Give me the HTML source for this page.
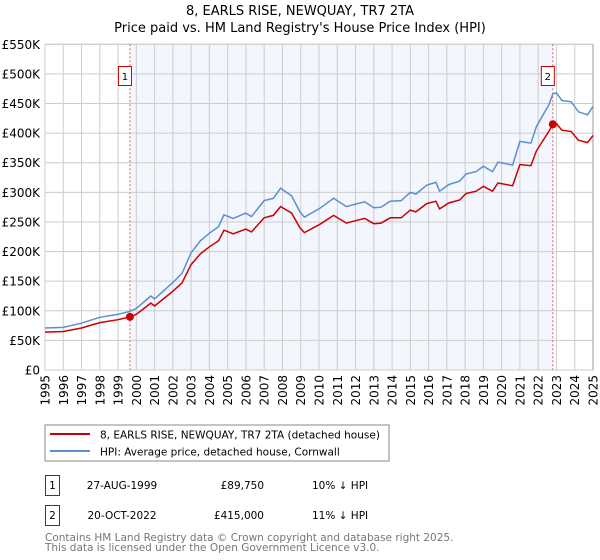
<!DOCTYPE html>
<html><head><meta charset="utf-8"><style>
body{margin:0;background:#fff;font-family:"DejaVu Sans","Liberation Sans",sans-serif;}
svg{display:block}
</style></head><body>
<svg id="c" width="600" height="560" font-family="DejaVu Sans, Liberation Sans, sans-serif">
<text x="300" y="15" text-anchor="middle" font-size="13">8, EARLS RISE, NEWQUAY, TR7 2TA</text>
<text x="300" y="32" text-anchor="middle" font-size="13">Price paid vs. HM Land Registry's House Price Index (HPI)</text>
<g id="plot"></g>
<rect x="45" y="425" width="344" height="36" fill="#fff" stroke="#888"/>
<line x1="50" y1="434" x2="90" y2="434" stroke="#cc0000" stroke-width="2"/>
<text x="100" y="438.5" font-size="10.5">8, EARLS RISE, NEWQUAY, TR7 2TA (detached house)</text>
<line x1="50" y1="451" x2="90" y2="451" stroke="#5b8fd0" stroke-width="2"/>
<text x="100" y="455.5" font-size="10.5">HPI: Average price, detached house, Cornwall</text>
<g font-size="10.5">
<rect x="45.5" y="475.5" width="14" height="20" fill="#fff" stroke="#cc0000"/>
<text x="52.5" y="489" text-anchor="middle">1</text>
<text x="122" y="489" text-anchor="middle">27-AUG-1999</text>
<text x="264" y="489" text-anchor="end">£89,750</text>
<text x="312" y="489">10% ↓ HPI</text>
<rect x="45.5" y="505.5" width="14" height="20" fill="#fff" stroke="#cc0000"/>
<text x="52.5" y="519" text-anchor="middle">2</text>
<text x="122" y="519" text-anchor="middle">20-OCT-2022</text>
<text x="264" y="519" text-anchor="end">£415,000</text>
<text x="312" y="519">11% ↓ HPI</text>
</g>
<text x="45" y="541" font-size="10.5" fill="#777">Contains HM Land Registry data © Crown copyright and database right 2025.</text>
<text x="45" y="551" font-size="10.5" fill="#777">This data is licensed under the Open Government Licence v3.0.</text>
</svg>
<script>
const hpiYears=[1995,1996,1997,1998,1999,1999.65,2000,2000.8,2001,2002,2002.5,2003,2003.5,2004,2004.5,2004.8,2005.3,2006,2006.3,2007,2007.5,2007.9,2008.5,2008.96,2009.2,2010.05,2010.8,2011.5,2012.1,2012.5,2013,2013.4,2013.9,2014.5,2015,2015.3,2015.9,2016.4,2016.6,2017.1,2017.7,2018.05,2018.6,2019,2019.5,2019.8,2020.6,2021,2021.6,2021.9,2022.6,2022.8,2023,2023.3,2023.8,2024.2,2024.7,2025];
const hpiValues=[71,72,79,89,94,99,104,125,120,148,163,198,218,231,242,262,256,265,259,286,290,307,294,267,258,273,290,276,281,284,274,275,285,286,300,297,312,317,302,313,319,331,335,344,335,351,346,386,383,411,449,466,468,455,453,436,431,445];
const redValues=[64,65,71,80,85,89.75,94,113,108,133,147,178,196,208,218,236,230,238,233,257,261,276,265,240,232,246,261,248,253,256,247,248,257,257,270,267,281,285,272,282,287,298,302,310,302,316,311,347,345,370,404,415,416,405,403,388,384,396];
const yTicks=[0,50,100,150,200,250,300,350,400,450,500,550];
const yTickLabels=["£0","£50K","£100K","£150K","£200K","£250K","£300K","£350K","£400K","£450K","£500K","£550K"];
const xTicks=[1995,1996,1997,1998,1999,2000,2001,2002,2003,2004,2005,2006,2007,2008,2009,2010,2011,2012,2013,2014,2015,2016,2017,2018,2019,2020,2021,2022,2023,2024,2025];
const saleYears=[1999.65,2022.8];
const salePrices=[89.75,415];
const saleLabels=["1","2"];
const NS="http://www.w3.org/2000/svg";
const L=45,R=593,T=44.3,B=370;
const x=v=>L+(v-1995)/30*(R-L);
const y=v=>B-v/550*(B-T);
const g=document.getElementById('plot');
function mk(t,a,p){const e=document.createElementNS(NS,t);for(const k in a)e.setAttribute(k,a[k]);(p||g).appendChild(e);return e;}
let e=mk('rect',{x:x(saleYears[0]),y:T,width:x(saleYears[1])-x(saleYears[0]),height:B-T,fill:'#f3f6fd'});


yTicks.forEach((v,i)=>{
 let l=mk('line',{x1:L,x2:R,y1:y(v),y2:y(v),stroke:'#ccc'});
 
 
 let t=mk('text',{x:40,y:y(v)+4.5,'text-anchor':'end','font-size':'12'});
 t.textContent=yTickLabels[i];
 
 
});
xTicks.forEach(v=>{
 let l=mk('line',{x1:x(v),x2:x(v),y1:T,y2:B,stroke:'#ccc'});
 
 
 let t=mk('text',{x:0,y:0,'text-anchor':'end','font-size':'12',transform:`translate(${x(v)+4.5},${B+5}) rotate(-90)`});
 t.textContent=v;
 
 
});
let fr=mk('rect',{x:L,y:T,width:R-L,height:B-T,fill:'none',stroke:'#ccc'});


let re=mk('line',{x1:R,x2:R,y1:T,y2:B,stroke:'#999'});


saleYears.forEach((s,i)=>{
 let l=mk('line',{x1:x(s),x2:x(s),y1:T,y2:B,stroke:'#e06060','stroke-dasharray':'2,2'});
 
 
});
const pts=a=>a.map((v,i)=>x(hpiYears[i]).toFixed(1)+','+y(v).toFixed(1)).join(' ');
let hl=mk('polyline',{points:pts(hpiValues),fill:'none',stroke:'#5b8fd0','stroke-width':1.5});


let rl=mk('polyline',{points:pts(redValues),fill:'none',stroke:'#cc0000','stroke-width':1.5});


saleYears.forEach((s,i)=>{
 let c=mk('circle',{cx:x(s),cy:y(salePrices[i]),r:4,fill:'#cc0000'});
 
 
 let b=mk('rect',{x:x(s)-11.5,y:66.5,width:13,height:19,fill:'#fff',stroke:'#cc0000'});
 
 
 let t=mk('text',{x:x(s)-5,y:80,'text-anchor':'middle','font-size':'10'});
 t.textContent=saleLabels[i];
 
 
});
</script>
</body></html>
